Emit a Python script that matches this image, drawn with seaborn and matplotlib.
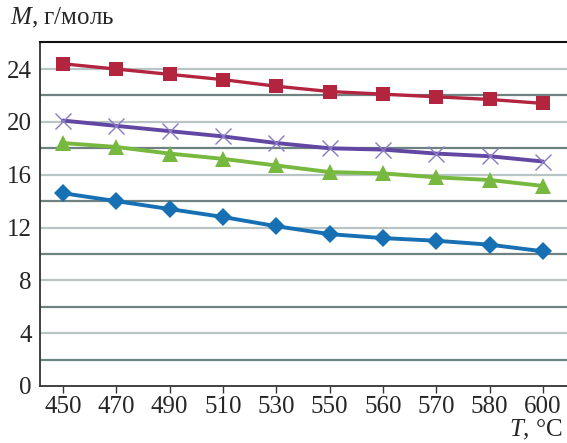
import matplotlib
matplotlib.use("Agg")
import matplotlib.pyplot as plt
import seaborn as sns
import pandas as pd

temps = [450, 470, 490, 510, 530, 550, 560, 570, 580, 600]
m_red = [24.4, 24.0, 23.6, 23.2, 22.7, 22.3, 22.1, 21.9, 21.7, 21.4]
m_purple = [20.1, 19.7, 19.3, 18.9, 18.4, 18.0, 17.9, 17.6, 17.4, 17.0]
m_green = [18.4, 18.1, 17.6, 17.2, 16.7, 16.2, 16.1, 15.8, 15.6, 15.15]
m_blue = [14.6, 14.0, 13.4, 12.8, 12.1, 11.5, 11.2, 11.0, 10.7, 10.2]

y_ticks = [0, 4, 8, 12, 16, 20, 24]
y_minor = [2, 6, 10, 14, 18, 22]

sns.set_theme(style="white")
plt.rcParams["font.family"] = ["Liberation Serif", "DejaVu Serif"]
plt.rcParams["mathtext.fontset"] = "custom"
plt.rcParams["mathtext.it"] = "Liberation Serif:italic"
plt.rcParams["mathtext.rm"] = "Liberation Serif"

fig = plt.figure(figsize=(5.67, 4.43), dpi=100)
ax = fig.add_axes([40 / 567, 57 / 443, 527 / 567, 344 / 443])

pos = list(range(len(temps)))
series = [
    (m_red, "#B3243F", "#B3243F", "s", 10.5, 2.4),
    (m_purple, "#6247A3", "#8A7CC4", "x", 11, 2.8),
    (m_green, "#77B83F", "#77B83F", "^", 11, 2.8),
    (m_blue, "#1670B3", "#1670B3", "D", 9, 2.8),
]
for vals, lc, mc, mk, ms, lw in series:
    df = pd.DataFrame({"pos": pos, "M": vals})
    sns.lineplot(data=df, x="pos", y="M", ax=ax, color=lc, lw=lw,
                 marker=mk, markersize=ms, markerfacecolor=mc,
                 markeredgecolor=mc, markeredgewidth=1.0 if mk == "x" else 0,
                 zorder=3)

for y in y_ticks[1:]:
    ax.axhline(y, color="#B9C4C4", lw=1.6, zorder=1)
for y in y_minor:
    ax.axhline(y, color="#6E8282", lw=1.6, zorder=1)

ax.set_xlim(-0.43, 9.45)
ax.set_ylim(0, 26.05)
ax.set_xticks(pos)
ax.set_xticklabels([str(t) for t in temps])
ax.set_yticks(y_ticks)
ax.tick_params(axis="x", length=5, width=1, direction="out", color="#333333",
               labelsize=18, pad=2, bottom=True)
ax.tick_params(axis="y", length=0, labelsize=18, pad=6)
ax.set_xlabel("")
ax.set_ylabel("")

for side in ["left", "bottom"]:
    ax.spines[side].set_color("#333333")
    ax.spines[side].set_linewidth(1.3)
ax.spines["top"].set_color("#111111")
ax.spines["top"].set_linewidth(1.5)
ax.spines["right"].set_visible(False)

fig.text(10 / 567, 1 - 18 / 443, r"$\mathit{M}$, г/моль", fontsize=18,
         va="center", ha="left")
fig.text(563 / 567, 1 - 430 / 443, r"$\mathit{T}$, °C", fontsize=18,
         va="center", ha="right")

fig.savefig("out.png", dpi=100)
